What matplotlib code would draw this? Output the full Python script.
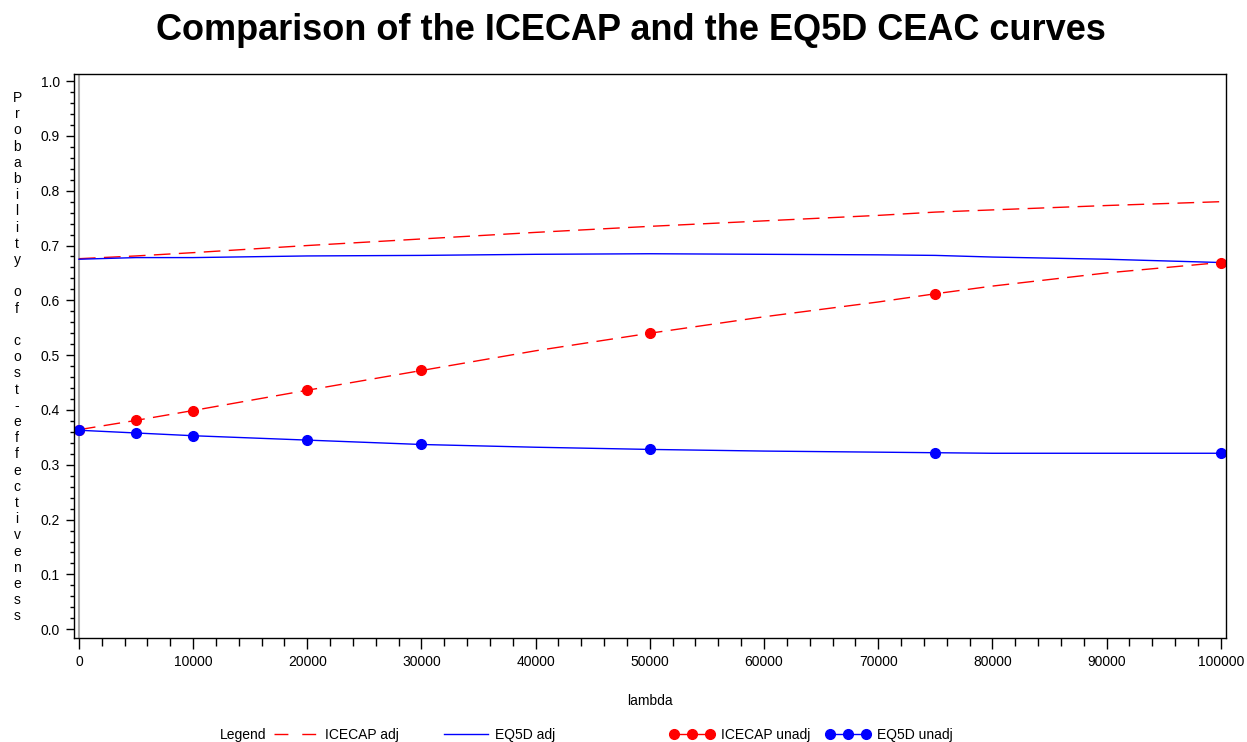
import matplotlib
matplotlib.use("Agg")
import matplotlib.pyplot as plt
from matplotlib.lines import Line2D
from matplotlib.ticker import MultipleLocator

plt.rcParams['font.family'] = ['Liberation Sans', 'DejaVu Sans']

# willingness-to-pay values (lambda) and CEAC probabilities
lam = [0, 5000, 10000, 20000, 30000, 40000, 50000, 60000, 70000, 75000, 80000, 90000, 100000]
icecap_adj = [0.676, 0.681, 0.687, 0.700, 0.712, 0.724, 0.735, 0.745, 0.755, 0.761, 0.765, 0.773, 0.780]
eq5d_adj = [0.675, 0.678, 0.678, 0.681, 0.682, 0.684, 0.685, 0.684, 0.683, 0.682, 0.679, 0.675, 0.669]
icecap_unadj = [0.364, 0.381, 0.399, 0.436, 0.472, 0.508, 0.540, 0.570, 0.597, 0.612, 0.626, 0.650, 0.669]
eq5d_unadj = [0.363, 0.358, 0.353, 0.345, 0.337, 0.332, 0.328, 0.325, 0.323, 0.322, 0.321, 0.321, 0.321]
# lambda values where the unadjusted estimates were computed
lam_points = [0, 5000, 10000, 20000, 30000, 50000, 75000, 100000]
mark_idx = [lam.index(v) for v in lam_points]

fig = plt.figure(figsize=(12.47, 7.42), dpi=100)
ax = fig.add_axes([0.0593, 0.1402, 0.9832 - 0.0593, 0.9003 - 0.1402])

red = '#ff0000'
blue = '#0000ff'
dash = (12, 6)

ax.axvline(0, color='#a8a8a8', lw=1.5, zorder=1)
ax.plot(lam, icecap_adj, color=red, lw=1.0, dashes=dash)
ax.plot(lam, eq5d_adj, color=blue, lw=1.0)
ax.plot(lam, icecap_unadj, color=red, lw=1.0, dashes=dash,
        marker='o', ms=7, markevery=mark_idx)
ax.plot(lam, eq5d_unadj, color=blue, lw=1.0,
        marker='o', ms=7, markevery=mark_idx)

ax.set_xlim(-438, 100468)
ax.set_ylim(-0.016, 1.013)
ax.xaxis.set_major_locator(MultipleLocator(10000))
ax.xaxis.set_minor_locator(MultipleLocator(2000))
ax.yaxis.set_major_locator(MultipleLocator(0.1))
ax.yaxis.set_minor_locator(MultipleLocator(0.02))
ax.yaxis.set_major_formatter(matplotlib.ticker.FormatStrFormatter('%.1f'))
ax.tick_params(axis='x', which='major', length=8, width=1, labelsize=10, pad=4)
ax.tick_params(axis='x', which='minor', length=6, width=1)
ax.tick_params(axis='y', which='major', length=6, width=1, labelsize=10, pad=4)
ax.tick_params(axis='y', which='minor', length=3, width=1)
for s in ax.spines.values():
    s.set_linewidth(1)
ax.set_xlabel('lambda', fontsize=10, labelpad=18)

# stacked y label, one character per row
ylab = 'Probability of cost-effectiveness'
y0, step = 98, 16.2
for i, ch in enumerate(ylab):
    if ch != ' ':
        fig.text(17 / 1247, 1 - (y0 + i * step) / 742, ch, fontsize=10,
                 ha='center', va='center')

fig.text(631 / 1247, 1 - 30 / 742, 'Comparison of the ICECAP and the EQ5D CEAC curves',
         fontsize=26, fontweight='bold', ha='center', va='center')

# legend row at the bottom
ly = 1 - 735 / 742
fig.text(243 / 1247, ly, 'Legend', fontsize=10, ha='center', va='center')
entries = [
    (Line2D([], [], color=red, lw=1.0, dashes=(10, 10)), 'ICECAP adj', 274, 1),
    (Line2D([], [], color=blue, lw=1.0), 'EQ5D adj', 444, 1),
    (Line2D([], [], color=red, lw=1.0, marker='o', ms=7), 'ICECAP unadj', 670, 3),
    (Line2D([], [], color=blue, lw=1.0, marker='o', ms=7), 'EQ5D unadj', 826, 3),
]
for h, label, xpix, npts in entries:
    fig.legend([h], [label], loc='center left', bbox_to_anchor=(xpix / 1247, ly),
               frameon=False, fontsize=10, handlelength=3.2, handletextpad=0.5,
               numpoints=npts, borderpad=0, borderaxespad=0)

fig.savefig('out.png', dpi=100)
